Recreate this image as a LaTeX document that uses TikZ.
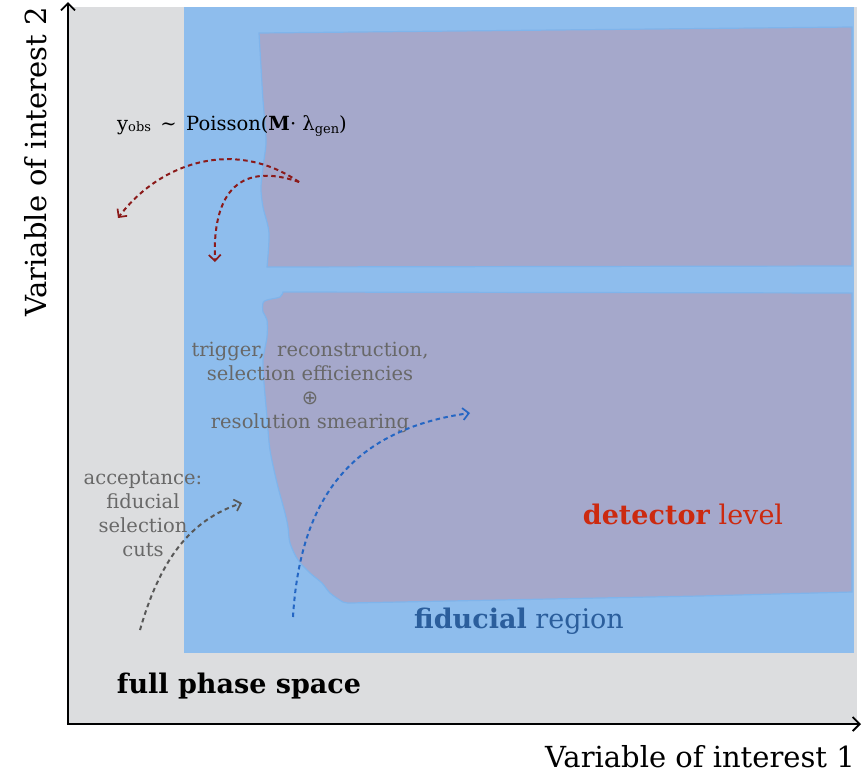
\documentclass[tikz,border=0pt]{standalone}
\usepackage{fontspec}
\setmainfont{DejaVu Serif}
\newfontfamily\symfnt{DejaVu Sans}
\usetikzlibrary{arrows.meta}
\definecolor{bggrey}{HTML}{DCDDDF}
\definecolor{fidblue}{HTML}{8EBDED}
\definecolor{detpurple}{HTML}{A5A8CB}
\definecolor{edgeblue}{HTML}{7FB4EB}
\definecolor{arrred}{HTML}{8B1A1A}
\definecolor{arrblue}{HTML}{2466C4}
\definecolor{txtgrey}{HTML}{686868}
\definecolor{detred}{HTML}{CC2A10}
\definecolor{fidtext}{HTML}{2B5E9C}
\tikzset{
  axisline/.style={line width=2.2pt, -{Straight Barb[length=7pt,width=14pt,line width=1.8pt]}},
  flowarrow/.style={line width=2pt, dash pattern=on 4.5pt off 3.5pt, -{Straight Barb[length=6pt,width=12pt,line width=1.7pt]}},
  region/.style={fill=detpurple, draw=edgeblue, line width=1.2pt},
  note/.style={text=txtgrey, align=center, font=\fontsize{19.5}{24}\selectfont},
}
\begin{document}
\begin{tikzpicture}[x=1pt,y=-1pt]
\useasboundingbox (0,0) rectangle (862,774);
% full phase space
\fill[bggrey] (68,7) rectangle (857,724);
% fiducial region
\fill[fidblue] (184,7) rectangle (854,653);
% detector level, upper part
\path[region] plot[smooth] coordinates {(267,267) (269,233) (263,207) (261,187) (264,160) (266,140) (263,100) (261,67) (259,33)}
  -- (852,27) -- (852,266) -- cycle;
% detector level, lower part
\path[region] (283,292) -- (852,293) -- (852,592) -- (700,596) -- (500,600)
  -- plot[smooth] coordinates {(350,603) (343,602) (330,593) (322,583) (310,573) (298,560) (290,543) (288,527) (285,513) (277,483) (270,450) (267,417) (264,383) (263,360) (267,337) (267,320) (263,312) (263,303) (267,300) (280,297) (283,292)}
  -- cycle;
% axes
\coordinate (origin) at (68,724);
\coordinate (ytip) at (68,2);
\coordinate (xtip) at (861,724);
\draw[axisline] ([xshift=-1.1pt]origin) -- (xtip);
\draw[axisline] ([yshift=1.1pt]origin) -- (ytip);
% labels
\node[rotate=90, font=\fontsize{29}{32}\selectfont] (ylab) at (36,162) {Variable of interest 2};
\node[font=\fontsize{29}{32}\selectfont] (xlab) at (700,757) {Variable of interest 1};
\node[font=\fontsize{19.5}{22}\selectfont] (poisson) at (232,126)
  {y{\fontsize{13}{15}\selectfont\raisebox{-1pt}{obs}} \,{\char"223C}\, Poisson(\textbf{M}· λ{\fontsize{13}{15}\selectfont\raisebox{-3pt}{gen}})};
\node[note] (trig) at (310,387) {trigger,\ \ reconstruction,\\selection efficiencies\\{\symfnt\char"2295}\\resolution smearing};
\node[note] (acc) at (143,514) {acceptance:\\fiducial\\selection\\cuts};
\node[font=\fontsize{27}{30}\selectfont, text=detred] (det) at (683,514) {\textbf{detector} level};
\node[font=\fontsize{27}{30}\selectfont, text=fidtext] (fid) at (519,621) {\textbf{fiducial} region};
\node[font=\fontsize{27}{30}\selectfont\bfseries] (full) at (239,686) {full phase space};
% arrows
\coordinate (redstart) at (299,182);
\coordinate (redend1) at (118,218);
\coordinate (redend2) at (215,262);
\coordinate (bluestart) at (293,617);
\coordinate (blueend) at (470,413);
\coordinate (greystart) at (140,630);
\coordinate (greyend) at (242,503);
\draw[flowarrow, arrred] (redstart) .. controls (235,138) and (160,162) .. (redend1);
\draw[flowarrow, arrred] (redstart) .. controls (250,165) and (212,180) .. (redend2);
\draw[flowarrow, arrblue] (bluestart) .. controls (300,500) and (350,430) .. (blueend);
\draw[flowarrow, txtgrey!85!black] (greystart) .. controls (160,560) and (190,520) .. (greyend);
\end{tikzpicture}
\end{document}
